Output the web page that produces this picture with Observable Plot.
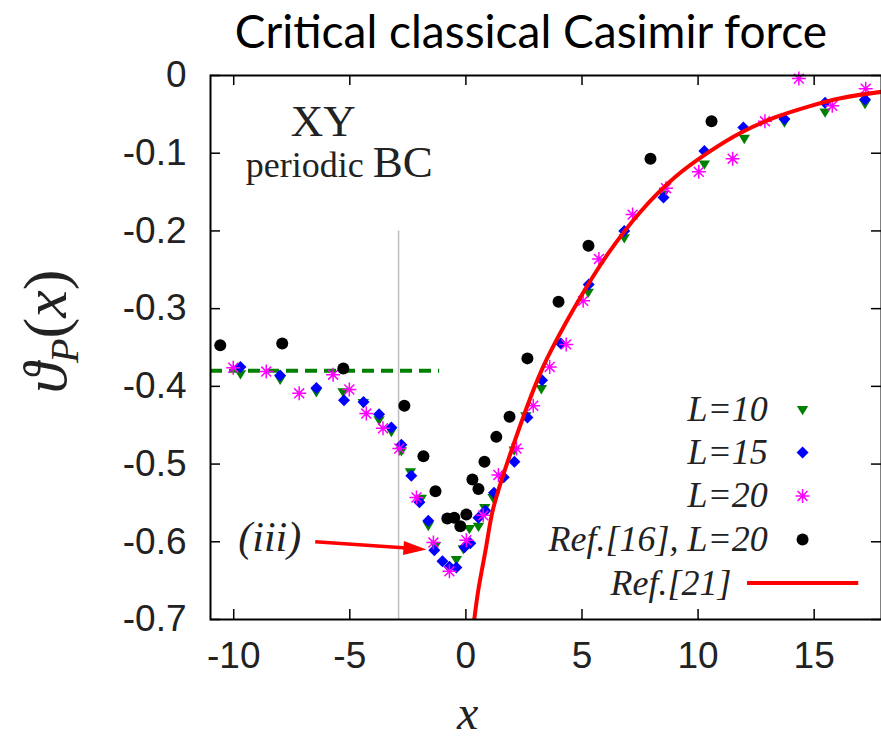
<!DOCTYPE html>
<html><head><meta charset="utf-8">
<script src="https://cdn.jsdelivr.net/npm/d3@7"></script>
<script src="https://cdn.jsdelivr.net/npm/@observablehq/plot@0.6"></script>
<style>
body{margin:0;background:#fff;width:881px;height:741px;overflow:hidden;position:relative;}
#title{position:absolute;left:0;top:0;width:881px;height:60px;}
#title span{position:absolute;left:531px;top:3px;transform:translateX(-50%);font-family:Lato,sans-serif;font-size:46px;white-space:nowrap;color:#000;}
#chart{position:absolute;left:0;top:60px;}
</style></head><body>
<div id="title"><span>Critical classical Casimir force</span></div>
<div id="chart"></div>
<script>
// ---- data ----
const xTicks = [-10, -5, 0, 5, 10, 15];
const yTicks = [0, -0.1, -0.2, -0.3, -0.4, -0.5, -0.6, -0.7];

const L10 = [[-9.71,-0.384],[-8.00,-0.391],[-6.44,-0.407],[-5.29,-0.407],[-4.42,-0.421],[-3.74,-0.443],[-3.21,-0.458],[-2.78,-0.483],[-2.39,-0.510],[-1.92,-0.544],[-1.62,-0.579],[-1.31,-0.605],[-0.41,-0.623],[-0.11,-0.609],[0.15,-0.583],[0.54,-0.580],[0.81,-0.556],[1.17,-0.543],[2.08,-0.482],[2.58,-0.438],[3.25,-0.403],[5.27,-0.279],[6.82,-0.209],[8.51,-0.153],[10.27,-0.114],[11.99,-0.081],[13.72,-0.060],[15.47,-0.047],[17.19,-0.036]];
const L15 = [[-9.71,-0.375],[-8.00,-0.386],[-6.44,-0.402],[-5.25,-0.418],[-4.41,-0.420],[-3.74,-0.436],[-3.21,-0.453],[-2.78,-0.475],[-2.35,-0.515],[-2.00,-0.549],[-1.62,-0.573],[-1.36,-0.611],[-1.01,-0.625],[-0.71,-0.632],[-0.41,-0.633],[-0.06,-0.607],[0.19,-0.602],[0.54,-0.569],[0.84,-0.560],[1.21,-0.537],[1.63,-0.517],[2.09,-0.497],[2.65,-0.440],[3.28,-0.392],[4.09,-0.345],[5.29,-0.269],[6.82,-0.200],[8.51,-0.157],[10.27,-0.097],[11.95,-0.067],[13.72,-0.056],[15.47,-0.035],[17.19,-0.031]];
const L20 = [[-10.02,-0.376],[-8.60,-0.381],[-7.18,-0.409],[-5.72,-0.385],[-5.02,-0.404],[-4.29,-0.435],[-3.57,-0.454],[-2.87,-0.480],[-2.13,-0.543],[-1.40,-0.601],[-0.71,-0.638],[0.02,-0.598],[0.75,-0.566],[1.40,-0.514],[2.18,-0.480],[2.90,-0.425],[3.61,-0.375],[4.32,-0.346],[5.05,-0.290],[5.73,-0.236],[7.18,-0.179],[8.62,-0.145],[10.03,-0.124],[11.49,-0.107],[12.88,-0.059],[14.34,-0.004],[15.78,-0.039],[17.22,-0.017]];
const ref16 = [[-10.58,-0.347],[-7.91,-0.345],[-5.28,-0.377],[-2.65,-0.425],[-1.83,-0.490],[-1.31,-0.535],[-0.80,-0.570],[-0.50,-0.569],[-0.24,-0.580],[0.02,-0.565],[0.28,-0.520],[0.54,-0.532],[0.80,-0.497],[1.31,-0.465],[1.88,-0.439],[2.65,-0.364],[3.99,-0.291],[5.28,-0.219],[7.95,-0.107],[10.58,-0.059]];
const ref21 = [[0.36,-0.700],[0.53,-0.663],[0.84,-0.612],[1.17,-0.558],[1.82,-0.495],[3.25,-0.380],[4.69,-0.298],[6.13,-0.229],[7.56,-0.174],[9.00,-0.131],[10.44,-0.099],[11.88,-0.073],[13.31,-0.054],[14.75,-0.040],[16.19,-0.029],[17.90,-0.021]];

const plateau = [{x1: -11, x2: -1.13, y: -0.38}];
const marker = [{x: -2.9, y1: -0.2, y2: -0.7}];
const arrowShaft = [{x1: -6.49, y1: -0.600, x2: -2.55, y2: -0.608}];
const arrowTip = [{x: -1.70, y: -0.610}];
const seriesLabels = ["L=10", "L=15", "L=20", "Ref.[16], L=20", "Ref.[21]"];
const legendRowY = [-0.430, -0.485, -0.541, -0.597, -0.653];
const legendTextX = [13.0, 13.0, 13.0, 13.0, 11.44];
const legendSymX = 14.5;
const legendLineX = [12.13, 16.92];
const xyNote = [{x: -6.14, y: -0.078, text: "XY"}];
const iiiNote = [{x: -8.45, y: -0.612, text: "(iii)"}];
const bcNote = {x: -9.46, y: -0.131, small: "periodic ", big: "BC"};

const pts = a => a.map(([x, y]) => ({x, y}));

// ---- custom symbols ----
const triDown = {draw(ctx, size){const r = Math.sqrt(size/Math.PI);
  ctx.moveTo(-0.95*r, -0.6*r); ctx.lineTo(0.95*r, -0.6*r); ctx.lineTo(0, 0.95*r); ctx.closePath();}};
const diamond = {draw(ctx, size){const r = Math.sqrt(size/Math.PI);
  ctx.moveTo(0, -r); ctx.lineTo(r, 0); ctx.lineTo(0, r); ctx.lineTo(-r, 0); ctx.closePath();}};
const star8 = {draw(ctx, size){const r = Math.sqrt(size/Math.PI); const d = r*Math.SQRT1_2;
  ctx.moveTo(0, -r); ctx.lineTo(0, r); ctx.moveTo(-r, 0); ctx.lineTo(r, 0);
  ctx.moveTo(-d, -d); ctx.lineTo(d, d); ctx.moveTo(-d, d); ctx.lineTo(d, -d);}};
const headRight = {draw(ctx, size){const a = 4.1*Math.PI/180, c = Math.cos(a), s = Math.sin(a);
  const P = [[0,0],[-23,-7],[-23,7]].map(([x,y]) => [x*c - y*s, x*s + y*c]);
  ctx.moveTo(P[0][0], P[0][1]); ctx.lineTo(P[1][0], P[1][1]); ctx.lineTo(P[2][0], P[2][1]); ctx.closePath();}};

const GREEN = "#008000", BLUE = "#0000ff", MAG = "#ff00ff", RED = "#ff0000";
const serif = "'Liberation Serif', 'Times New Roman', serif";
const sans = "'Liberation Sans', Arial, sans-serif";
const FH = 544, FW = 671;

const legendItems = seriesLabels.map((t, i) => ({t, y: legendRowY[i], x: legendTextX[i]}));

const plot = Plot.plot({
  width: 881, height: 681,
  marginTop: 15, marginBottom: 122, marginLeft: 210, marginRight: 0,
  x: {domain: [-11, 17.9]},
  y: {domain: [-0.7, 0]},
  style: {background: "white", overflow: "visible"},
  marks: [
    Plot.ruleX(marker, {x: "x", y1: "y1", y2: "y2", stroke: "#bdbdbd", strokeWidth: 1.5}),
    Plot.ruleY(plateau, {y: "y", x1: "x1", x2: "x2", stroke: GREEN, strokeWidth: 4, strokeDasharray: "12,7"}),
    Plot.dot(pts(L10), {x: "x", y: "y", symbol: triDown, r: 6, fill: GREEN, stroke: "none"}),
    Plot.dot(pts(L15), {x: "x", y: "y", symbol: diamond, r: 6, fill: BLUE, stroke: "none"}),
    Plot.dot(pts(L20), {x: "x", y: "y", symbol: star8, r: 7, fill: "none", stroke: MAG, strokeWidth: 1.5}),
    Plot.dot(pts(ref16), {x: "x", y: "y", r: 6, fill: "black", stroke: "none"}),
    Plot.line(pts(ref21), {x: "x", y: "y", stroke: RED, strokeWidth: 4, curve: "catmull-rom", clip: true}),
    Plot.link(arrowShaft, {x1: "x1", y1: "y1", x2: "x2", y2: "y2", stroke: RED, strokeWidth: 3.5}),
    Plot.dot(arrowTip, {x: "x", y: "y", symbol: headRight, r: 5, fill: RED, stroke: "none"}),
    // notes
    Plot.text(xyNote, {x: "x", y: "y", text: "text", fontFamily: serif, fontSize: 45, fill: "#222", lineAnchor: "bottom"}),
    Plot.text(iiiNote, {x: "x", y: "y", text: "text", fontFamily: serif, fontStyle: "italic", fontSize: 42, fill: "#222", lineAnchor: "bottom"}),
    // legend
    Plot.text(legendItems, {x: "x", y: "y", text: "t", textAnchor: "end", fontFamily: serif, fontStyle: "italic", fontSize: 36, fill: "#222"}),
    Plot.dot([{x: legendSymX, y: legendRowY[0]}], {x: "x", y: "y", symbol: triDown, r: 6, fill: GREEN, stroke: "none"}),
    Plot.dot([{x: legendSymX, y: legendRowY[1]}], {x: "x", y: "y", symbol: diamond, r: 6, fill: BLUE, stroke: "none"}),
    Plot.dot([{x: legendSymX, y: legendRowY[2]}], {x: "x", y: "y", symbol: star8, r: 7, fill: "none", stroke: MAG, strokeWidth: 1.5}),
    Plot.dot([{x: legendSymX, y: legendRowY[3]}], {x: "x", y: "y", r: 6, fill: "black", stroke: "none"}),
    Plot.ruleY([legendRowY[4]], {x1: legendLineX[0], x2: legendLineX[1], stroke: RED, strokeWidth: 4}),
    // ticks (inward, mirrored)
    Plot.tickX(xTicks, {x: d => d, insetTop: FH - 10, stroke: "black", strokeWidth: 1.5}),
    Plot.tickX(xTicks, {x: d => d, insetBottom: FH - 10, stroke: "black", strokeWidth: 1.5}),
    Plot.tickY(yTicks, {y: d => d, insetRight: FW - 10, stroke: "black", strokeWidth: 1.5}),
    Plot.tickY(yTicks, {y: d => d, insetLeft: FW - 10, stroke: "black", strokeWidth: 1.5}),
    Plot.axisX({ticks: xTicks, tickSize: 0, tickPadding: 22, tickFormat: d => String(d), label: null, fontSize: 37, fontFamily: sans, fill: "#222"}),
    Plot.axisY({ticks: yTicks, tickSize: 0, tickPadding: 24, tickFormat: d => d === 0 ? "0" : d.toFixed(1), label: null, fontSize: 37, fontFamily: sans, fill: "#222"}),
    Plot.frame({stroke: "black", strokeWidth: 2})
  ]
});
document.getElementById("chart").appendChild(plot);

// extra text needing tspans, positioned through the plot's scales
const sx = plot.scale("x"), sy = plot.scale("y");
const svg = d3.select(plot);
const pb = svg.append("text").attr("x", sx.apply(bcNote.x)).attr("y", sy.apply(bcNote.y))
  .attr("text-anchor", "start").style("font-family", serif).style("fill", "#222");
pb.append("tspan").style("font-size", "36px").text(bcNote.small);
pb.append("tspan").style("font-size", "45px").text(bcNote.big);

const yl = svg.append("text").attr("transform", `translate(66,${sy.apply(-0.33)}) rotate(-90)`)
  .attr("text-anchor", "middle").style("font-family", serif).style("font-size", "62px").style("fill", "#222");
yl.append("tspan").style("font-style", "italic").text("ϑ");
yl.append("tspan").style("font-style", "italic").style("font-size", "40px").attr("dy", 12).text("P");
yl.append("tspan").attr("dy", -12).text("(");
yl.append("tspan").style("font-style", "italic").text("x");
yl.append("tspan").text(")");

svg.append("text").attr("x", sx.apply(0.1)).attr("y", 669).attr("text-anchor", "middle")
  .style("font-family", serif).style("font-style", "italic").style("font-size", "48px").style("fill", "#222").text("x");
</script>
</body></html>
